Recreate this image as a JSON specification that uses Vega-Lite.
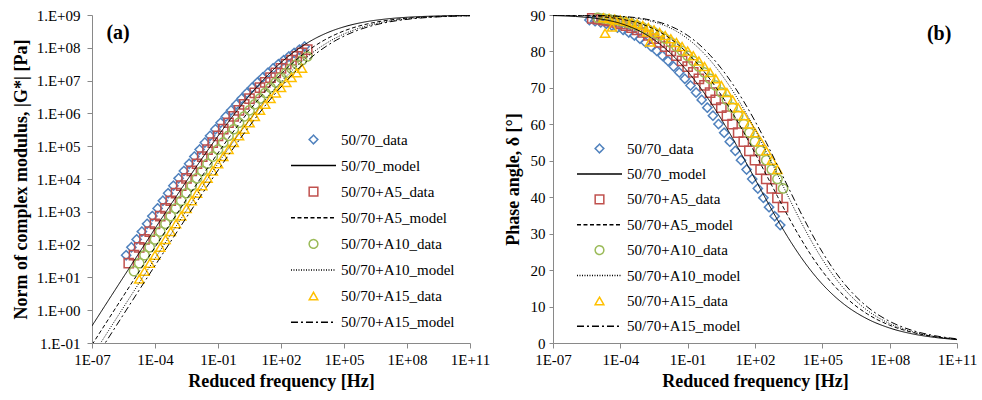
{
  "$schema": "https://vega.github.io/schema/vega-lite/v6.json",
  "autosize": {"type": "pad"},
  "padding": {"left": 12, "top": 8, "right": 5, "bottom": 3},
  "background": "white",
  "bounds": "flush",
  "spacing": 83,
  "config": {
    "view": {"stroke": null},
    "font": "Liberation Serif",
    "axis": {"grid": false, "domainColor": "#898989", "tickColor": "#898989", "labelColor": "#000000", "labelFont": "Liberation Serif", "labelFontSize": 15, "titleFont": "Liberation Serif", "titleFontSize": 18, "titleFontWeight": "bold", "titleColor": "#000000", "labelOverlap": false, "labelFlush": false},
    "legend": {"labelFont": "Liberation Serif", "labelFontSize": 15, "labelColor": "#000000", "symbolSize": 75, "symbolStrokeWidth": 1.5, "padding": 0, "labelOffset": 20, "labelLimit": 300}
  },
  "datasets": {
    "lp": [
      {"s":"50/70_data","f":4.217e-6,"g":47.5},{"s":"50/70_data","f":7.499e-6,"g":82.8},{"s":"50/70_data","f":1.334e-5,"g":144},{"s":"50/70_data","f":2.371e-5,"g":249},{"s":"50/70_data","f":4.217e-5,"g":430},{"s":"50/70_data","f":7.499e-5,"g":740},{"s":"50/70_data","f":1.334e-4,"g":1270},{"s":"50/70_data","f":2.371e-4,"g":2170},{"s":"50/70_data","f":4.217e-4,"g":3690},{"s":"50/70_data","f":7.499e-4,"g":6250},{"s":"50/70_data","f":1.334e-3,"g":10500},{"s":"50/70_data","f":2.371e-3,"g":17600},{"s":"50/70_data","f":4.217e-3,"g":29200},{"s":"50/70_data","f":7.499e-3,"g":48300},{"s":"50/70_data","f":1.334e-2,"g":79200},{"s":"50/70_data","f":2.371e-2,"g":129000},{"s":"50/70_data","f":4.217e-2,"g":207000},{"s":"50/70_data","f":7.499e-2,"g":330000},{"s":"50/70_data","f":0.1334,"g":519000},{"s":"50/70_data","f":0.2371,"g":809000},{"s":"50/70_data","f":0.4217,"g":1240000},{"s":"50/70_data","f":0.7499,"g":1890000},{"s":"50/70_data","f":1.334,"g":2840000},{"s":"50/70_data","f":2.371,"g":4200000},{"s":"50/70_data","f":4.217,"g":6110000},{"s":"50/70_data","f":7.499,"g":8770000},{"s":"50/70_data","f":13.34,"g":12400000},{"s":"50/70_data","f":23.71,"g":17200000},{"s":"50/70_data","f":42.17,"g":23600000},{"s":"50/70_data","f":74.99,"g":31600000},{"s":"50/70_data","f":133.4,"g":41900000},{"s":"50/70_data","f":237.1,"g":54400000},{"s":"50/70_data","f":421.7,"g":69700000},{"s":"50/70_data","f":749.9,"g":87700000},{"s":"50/70_data","f":1334,"g":109000000},
      {"s":"50/70+A5_data","f":5.623e-6,"g":27.2},{"s":"50/70+A5_data","f":1e-5,"g":47.5},{"s":"50/70+A5_data","f":1.778e-5,"g":82.8},{"s":"50/70+A5_data","f":3.162e-5,"g":144},{"s":"50/70+A5_data","f":5.623e-5,"g":249},{"s":"50/70+A5_data","f":1e-4,"g":430},{"s":"50/70+A5_data","f":1.778e-4,"g":740},{"s":"50/70+A5_data","f":3.162e-4,"g":1270},{"s":"50/70+A5_data","f":5.623e-4,"g":2170},{"s":"50/70+A5_data","f":1e-3,"g":3690},{"s":"50/70+A5_data","f":1.778e-3,"g":6250},{"s":"50/70+A5_data","f":3.162e-3,"g":10500},{"s":"50/70+A5_data","f":5.623e-3,"g":17600},{"s":"50/70+A5_data","f":0.01,"g":29200},{"s":"50/70+A5_data","f":1.778e-2,"g":48300},{"s":"50/70+A5_data","f":3.162e-2,"g":79200},{"s":"50/70+A5_data","f":5.623e-2,"g":129000},{"s":"50/70+A5_data","f":0.1,"g":207000},{"s":"50/70+A5_data","f":0.1778,"g":330000},{"s":"50/70+A5_data","f":0.3162,"g":519000},{"s":"50/70+A5_data","f":0.5623,"g":809000},{"s":"50/70+A5_data","f":1,"g":1240000},{"s":"50/70+A5_data","f":1.778,"g":1890000},{"s":"50/70+A5_data","f":3.162,"g":2840000},{"s":"50/70+A5_data","f":5.623,"g":4200000},{"s":"50/70+A5_data","f":10,"g":6110000},{"s":"50/70+A5_data","f":17.78,"g":8770000},{"s":"50/70+A5_data","f":31.62,"g":12400000},{"s":"50/70+A5_data","f":56.23,"g":17200000},{"s":"50/70+A5_data","f":100,"g":23600000},{"s":"50/70+A5_data","f":177.8,"g":31600000},{"s":"50/70+A5_data","f":316.2,"g":41900000},{"s":"50/70+A5_data","f":562.3,"g":54400000},{"s":"50/70+A5_data","f":1000,"g":69700000},{"s":"50/70+A5_data","f":1778,"g":87700000},
      {"s":"50/70+A10_data","f":1e-5,"g":15.5},{"s":"50/70+A10_data","f":1.778e-5,"g":27.2},{"s":"50/70+A10_data","f":3.162e-5,"g":47.5},{"s":"50/70+A10_data","f":5.623e-5,"g":82.8},{"s":"50/70+A10_data","f":1e-4,"g":144},{"s":"50/70+A10_data","f":1.778e-4,"g":249},{"s":"50/70+A10_data","f":3.162e-4,"g":430},{"s":"50/70+A10_data","f":5.623e-4,"g":740},{"s":"50/70+A10_data","f":1e-3,"g":1270},{"s":"50/70+A10_data","f":1.778e-3,"g":2170},{"s":"50/70+A10_data","f":3.162e-3,"g":3690},{"s":"50/70+A10_data","f":5.623e-3,"g":6250},{"s":"50/70+A10_data","f":0.01,"g":10500},{"s":"50/70+A10_data","f":1.778e-2,"g":17600},{"s":"50/70+A10_data","f":3.162e-2,"g":29200},{"s":"50/70+A10_data","f":5.623e-2,"g":48300},{"s":"50/70+A10_data","f":0.1,"g":79200},{"s":"50/70+A10_data","f":0.1778,"g":129000},{"s":"50/70+A10_data","f":0.3162,"g":207000},{"s":"50/70+A10_data","f":0.5623,"g":330000},{"s":"50/70+A10_data","f":1,"g":519000},{"s":"50/70+A10_data","f":1.778,"g":809000},{"s":"50/70+A10_data","f":3.162,"g":1240000},{"s":"50/70+A10_data","f":5.623,"g":1890000},{"s":"50/70+A10_data","f":10,"g":2840000},{"s":"50/70+A10_data","f":17.78,"g":4200000},{"s":"50/70+A10_data","f":31.62,"g":6110000},{"s":"50/70+A10_data","f":56.23,"g":8770000},{"s":"50/70+A10_data","f":100,"g":12400000},{"s":"50/70+A10_data","f":177.8,"g":17200000},{"s":"50/70+A10_data","f":316.2,"g":23600000},{"s":"50/70+A10_data","f":562.3,"g":31600000},{"s":"50/70+A10_data","f":1000,"g":41900000},{"s":"50/70+A10_data","f":1778,"g":54400000},
      {"s":"50/70+A15_data","f":1.778e-5,"g":8.87},{"s":"50/70+A15_data","f":3.162e-5,"g":15.5},{"s":"50/70+A15_data","f":5.623e-5,"g":27.2},{"s":"50/70+A15_data","f":1e-4,"g":47.5},{"s":"50/70+A15_data","f":1.778e-4,"g":82.8},{"s":"50/70+A15_data","f":3.162e-4,"g":144},{"s":"50/70+A15_data","f":5.623e-4,"g":249},{"s":"50/70+A15_data","f":1e-3,"g":430},{"s":"50/70+A15_data","f":1.778e-3,"g":740},{"s":"50/70+A15_data","f":3.162e-3,"g":1270},{"s":"50/70+A15_data","f":5.623e-3,"g":2170},{"s":"50/70+A15_data","f":0.01,"g":3690},{"s":"50/70+A15_data","f":1.778e-2,"g":6250},{"s":"50/70+A15_data","f":3.162e-2,"g":10500},{"s":"50/70+A15_data","f":5.623e-2,"g":17600},{"s":"50/70+A15_data","f":0.1,"g":29200},{"s":"50/70+A15_data","f":0.1778,"g":48300},{"s":"50/70+A15_data","f":0.3162,"g":79200},{"s":"50/70+A15_data","f":0.5623,"g":129000},{"s":"50/70+A15_data","f":1,"g":207000},{"s":"50/70+A15_data","f":1.778,"g":330000},{"s":"50/70+A15_data","f":3.162,"g":519000},{"s":"50/70+A15_data","f":5.623,"g":809000},{"s":"50/70+A15_data","f":10,"g":1240000},{"s":"50/70+A15_data","f":17.78,"g":1890000},{"s":"50/70+A15_data","f":31.62,"g":2840000},{"s":"50/70+A15_data","f":56.23,"g":4200000},{"s":"50/70+A15_data","f":100,"g":6110000},{"s":"50/70+A15_data","f":177.8,"g":8770000},{"s":"50/70+A15_data","f":316.2,"g":12400000},{"s":"50/70+A15_data","f":562.3,"g":17200000},{"s":"50/70+A15_data","f":1000,"g":23600000}
    ],
    "ll": [
      {"s":"50/70_model","f":1e-7,"g":0.333},{"s":"50/70_model","f":1e-5,"g":32.1},{"s":"50/70_model","f":1e-3,"g":2870},{"s":"50/70_model","f":1e-2,"g":25400},{"s":"50/70_model","f":0.1,"g":205000},{"s":"50/70_model","f":0.3162,"g":553000},{"s":"50/70_model","f":1,"g":1440000},{"s":"50/70_model","f":3.162,"g":3540000},{"s":"50/70_model","f":10,"g":8200000},{"s":"50/70_model","f":31.62,"g":17700000},{"s":"50/70_model","f":100,"g":35500000},{"s":"50/70_model","f":316.2,"g":65500000},{"s":"50/70_model","f":1000,"g":110900000},{"s":"50/70_model","f":3162,"g":173800000},{"s":"50/70_model","f":1e4,"g":252300000},{"s":"50/70_model","f":3.162e4,"g":342000000},{"s":"50/70_model","f":1e5,"g":435500000},{"s":"50/70_model","f":1e6,"g":615200000},{"s":"50/70_model","f":1e7,"g":755100000},{"s":"50/70_model","f":1e8,"g":853100000},{"s":"50/70_model","f":1e9,"g":914100000},{"s":"50/70_model","f":1e10,"g":950600000},{"s":"50/70_model","f":1e11,"g":972700000},
      {"s":"50/70+A5_model","f":1e-7,"g":0.0881},{"s":"50/70+A5_model","f":3.802e-5,"g":32.1},{"s":"50/70+A5_model","f":3.802e-3,"g":2870},{"s":"50/70+A5_model","f":3.802e-2,"g":25400},{"s":"50/70+A5_model","f":0.3802,"g":205000},{"s":"50/70+A5_model","f":1.202,"g":553000},{"s":"50/70+A5_model","f":3.802,"g":1440000},{"s":"50/70+A5_model","f":12.02,"g":3540000},{"s":"50/70+A5_model","f":38.02,"g":8200000},{"s":"50/70+A5_model","f":120.2,"g":17700000},{"s":"50/70+A5_model","f":380.2,"g":35500000},{"s":"50/70+A5_model","f":1202,"g":65500000},{"s":"50/70+A5_model","f":3802,"g":110900000},{"s":"50/70+A5_model","f":1.202e4,"g":173800000},{"s":"50/70+A5_model","f":3.802e4,"g":252300000},{"s":"50/70+A5_model","f":1.202e5,"g":342000000},{"s":"50/70+A5_model","f":3.802e5,"g":435500000},{"s":"50/70+A5_model","f":3.802e6,"g":615200000},{"s":"50/70+A5_model","f":3.802e7,"g":755100000},{"s":"50/70+A5_model","f":3.802e8,"g":853100000},{"s":"50/70+A5_model","f":3.802e9,"g":914100000},{"s":"50/70+A5_model","f":3.802e10,"g":950600000},{"s":"50/70+A5_model","f":1e11,"g":962000000},
      {"s":"50/70+A10_model","f":1e-7,"g":0.0388},{"s":"50/70+A10_model","f":8.511e-5,"g":32.1},{"s":"50/70+A10_model","f":8.511e-3,"g":2870},{"s":"50/70+A10_model","f":8.511e-2,"g":25400},{"s":"50/70+A10_model","f":0.8511,"g":205000},{"s":"50/70+A10_model","f":2.691,"g":553000},{"s":"50/70+A10_model","f":8.511,"g":1440000},{"s":"50/70+A10_model","f":26.91,"g":3540000},{"s":"50/70+A10_model","f":85.11,"g":8200000},{"s":"50/70+A10_model","f":269.1,"g":17700000},{"s":"50/70+A10_model","f":851.1,"g":35500000},{"s":"50/70+A10_model","f":2691,"g":65500000},{"s":"50/70+A10_model","f":8511,"g":110900000},{"s":"50/70+A10_model","f":2.691e4,"g":173800000},{"s":"50/70+A10_model","f":8.511e4,"g":252300000},{"s":"50/70+A10_model","f":2.691e5,"g":342000000},{"s":"50/70+A10_model","f":8.511e5,"g":435500000},{"s":"50/70+A10_model","f":8.511e6,"g":615200000},{"s":"50/70+A10_model","f":8.511e7,"g":755100000},{"s":"50/70+A10_model","f":8.511e8,"g":853100000},{"s":"50/70+A10_model","f":8.511e9,"g":914100000},{"s":"50/70+A10_model","f":8.511e10,"g":950600000},{"s":"50/70+A10_model","f":1e11,"g":953000000},
      {"s":"50/70+A15_model","f":1e-7,"g":0.0235},{"s":"50/70+A15_model","f":1.413e-4,"g":32.1},{"s":"50/70+A15_model","f":1.413e-2,"g":2870},{"s":"50/70+A15_model","f":0.1413,"g":25400},{"s":"50/70+A15_model","f":1.413,"g":205000},{"s":"50/70+A15_model","f":4.468,"g":553000},{"s":"50/70+A15_model","f":14.13,"g":1440000},{"s":"50/70+A15_model","f":44.68,"g":3540000},{"s":"50/70+A15_model","f":141.3,"g":8200000},{"s":"50/70+A15_model","f":446.8,"g":17700000},{"s":"50/70+A15_model","f":1413,"g":35500000},{"s":"50/70+A15_model","f":4468,"g":65500000},{"s":"50/70+A15_model","f":1.413e4,"g":110900000},{"s":"50/70+A15_model","f":4.468e4,"g":173800000},{"s":"50/70+A15_model","f":1.413e5,"g":252300000},{"s":"50/70+A15_model","f":4.468e5,"g":342000000},{"s":"50/70+A15_model","f":1.413e6,"g":435500000},{"s":"50/70+A15_model","f":1.413e7,"g":615200000},{"s":"50/70+A15_model","f":1.413e8,"g":755100000},{"s":"50/70+A15_model","f":1.413e9,"g":853100000},{"s":"50/70+A15_model","f":1.413e10,"g":914100000},{"s":"50/70+A15_model","f":1e11,"g":946000000}
    ],
    "rp": [
      {"s":"50/70_data","f":4.217e-6,"d":88.61},{"s":"50/70_data","f":7.499e-6,"d":88.31},{"s":"50/70_data","f":1.334e-5,"d":87.97},{"s":"50/70_data","f":2.371e-5,"d":87.57},{"s":"50/70_data","f":4.217e-5,"d":87.09},{"s":"50/70_data","f":7.499e-5,"d":86.55},{"s":"50/70_data","f":1.334e-4,"d":85.91},{"s":"50/70_data","f":2.371e-4,"d":85.2},{"s":"50/70_data","f":4.217e-4,"d":84.38},{"s":"50/70_data","f":7.499e-4,"d":83.48},{"s":"50/70_data","f":1.334e-3,"d":82.46},{"s":"50/70_data","f":2.371e-3,"d":81.35},{"s":"50/70_data","f":4.217e-3,"d":80.14},{"s":"50/70_data","f":7.499e-3,"d":78.82},{"s":"50/70_data","f":1.334e-2,"d":77.39},{"s":"50/70_data","f":2.371e-2,"d":75.86},{"s":"50/70_data","f":4.217e-2,"d":74.23},{"s":"50/70_data","f":7.499e-2,"d":72.49},{"s":"50/70_data","f":0.1334,"d":70.66},{"s":"50/70_data","f":0.2371,"d":68.73},{"s":"50/70_data","f":0.4217,"d":66.71},{"s":"50/70_data","f":0.7499,"d":64.58},{"s":"50/70_data","f":1.334,"d":62.38},{"s":"50/70_data","f":2.371,"d":60.07},{"s":"50/70_data","f":4.217,"d":57.7},{"s":"50/70_data","f":7.499,"d":55.24},{"s":"50/70_data","f":13.34,"d":52.73},{"s":"50/70_data","f":23.71,"d":50.17},{"s":"50/70_data","f":42.17,"d":47.6},{"s":"50/70_data","f":74.99,"d":45.0},{"s":"50/70_data","f":133.4,"d":42.4},{"s":"50/70_data","f":237.1,"d":39.83},{"s":"50/70_data","f":421.7,"d":37.27},{"s":"50/70_data","f":749.9,"d":34.79},{"s":"50/70_data","f":1334,"d":32.35},
      {"s":"50/70+A5_data","f":5.623e-6,"d":89.06},{"s":"50/70+A5_data","f":1e-5,"d":88.85},{"s":"50/70+A5_data","f":1.778e-5,"d":88.61},{"s":"50/70+A5_data","f":3.162e-5,"d":88.31},{"s":"50/70+A5_data","f":5.623e-5,"d":87.97},{"s":"50/70+A5_data","f":1e-4,"d":87.57},{"s":"50/70+A5_data","f":1.778e-4,"d":87.09},{"s":"50/70+A5_data","f":3.162e-4,"d":86.55},{"s":"50/70+A5_data","f":5.623e-4,"d":85.91},{"s":"50/70+A5_data","f":1e-3,"d":85.2},{"s":"50/70+A5_data","f":1.778e-3,"d":84.38},{"s":"50/70+A5_data","f":3.162e-3,"d":83.48},{"s":"50/70+A5_data","f":5.623e-3,"d":82.46},{"s":"50/70+A5_data","f":0.01,"d":81.35},{"s":"50/70+A5_data","f":1.778e-2,"d":80.14},{"s":"50/70+A5_data","f":3.162e-2,"d":78.82},{"s":"50/70+A5_data","f":5.623e-2,"d":77.39},{"s":"50/70+A5_data","f":0.1,"d":75.86},{"s":"50/70+A5_data","f":0.1778,"d":74.23},{"s":"50/70+A5_data","f":0.3162,"d":72.49},{"s":"50/70+A5_data","f":0.5623,"d":70.66},{"s":"50/70+A5_data","f":1,"d":68.73},{"s":"50/70+A5_data","f":1.778,"d":66.71},{"s":"50/70+A5_data","f":3.162,"d":64.58},{"s":"50/70+A5_data","f":5.623,"d":62.38},{"s":"50/70+A5_data","f":10,"d":60.07},{"s":"50/70+A5_data","f":17.78,"d":57.7},{"s":"50/70+A5_data","f":31.62,"d":55.24},{"s":"50/70+A5_data","f":56.23,"d":52.73},{"s":"50/70+A5_data","f":100,"d":50.17},{"s":"50/70+A5_data","f":177.8,"d":47.6},{"s":"50/70+A5_data","f":316.2,"d":45.0},{"s":"50/70+A5_data","f":562.3,"d":42.4},{"s":"50/70+A5_data","f":1000,"d":39.83},{"s":"50/70+A5_data","f":1778,"d":37.27},
      {"s":"50/70+A10_data","f":1e-5,"d":89.23},{"s":"50/70+A10_data","f":1.778e-5,"d":89.06},{"s":"50/70+A10_data","f":3.162e-5,"d":88.85},{"s":"50/70+A10_data","f":5.623e-5,"d":88.61},{"s":"50/70+A10_data","f":1e-4,"d":88.31},{"s":"50/70+A10_data","f":1.778e-4,"d":87.97},{"s":"50/70+A10_data","f":3.162e-4,"d":87.57},{"s":"50/70+A10_data","f":5.623e-4,"d":87.09},{"s":"50/70+A10_data","f":1e-3,"d":86.55},{"s":"50/70+A10_data","f":1.778e-3,"d":85.91},{"s":"50/70+A10_data","f":3.162e-3,"d":85.2},{"s":"50/70+A10_data","f":5.623e-3,"d":84.38},{"s":"50/70+A10_data","f":0.01,"d":83.48},{"s":"50/70+A10_data","f":1.778e-2,"d":82.46},{"s":"50/70+A10_data","f":3.162e-2,"d":81.35},{"s":"50/70+A10_data","f":5.623e-2,"d":80.14},{"s":"50/70+A10_data","f":0.1,"d":78.82},{"s":"50/70+A10_data","f":0.1778,"d":77.39},{"s":"50/70+A10_data","f":0.3162,"d":75.86},{"s":"50/70+A10_data","f":0.5623,"d":74.23},{"s":"50/70+A10_data","f":1,"d":72.49},{"s":"50/70+A10_data","f":1.778,"d":70.66},{"s":"50/70+A10_data","f":3.162,"d":68.73},{"s":"50/70+A10_data","f":5.623,"d":66.71},{"s":"50/70+A10_data","f":10,"d":64.58},{"s":"50/70+A10_data","f":17.78,"d":62.38},{"s":"50/70+A10_data","f":31.62,"d":60.07},{"s":"50/70+A10_data","f":56.23,"d":57.7},{"s":"50/70+A10_data","f":100,"d":55.24},{"s":"50/70+A10_data","f":177.8,"d":52.73},{"s":"50/70+A10_data","f":316.2,"d":50.17},{"s":"50/70+A10_data","f":562.3,"d":47.6},{"s":"50/70+A10_data","f":1000,"d":45.0},{"s":"50/70+A10_data","f":1778,"d":42.4},
      {"s":"50/70+A15_data","f":1.778e-5,"d":89.23},{"s":"50/70+A15_data","f":3.162e-5,"d":89.06},{"s":"50/70+A15_data","f":5.623e-5,"d":88.85},{"s":"50/70+A15_data","f":1e-4,"d":88.61},{"s":"50/70+A15_data","f":1.778e-4,"d":88.31},{"s":"50/70+A15_data","f":3.162e-4,"d":87.97},{"s":"50/70+A15_data","f":5.623e-4,"d":87.57},{"s":"50/70+A15_data","f":1e-3,"d":87.09},{"s":"50/70+A15_data","f":1.778e-3,"d":86.55},{"s":"50/70+A15_data","f":3.162e-3,"d":85.91},{"s":"50/70+A15_data","f":5.623e-3,"d":85.2},{"s":"50/70+A15_data","f":0.01,"d":84.38},{"s":"50/70+A15_data","f":1.778e-2,"d":83.48},{"s":"50/70+A15_data","f":3.162e-2,"d":82.46},{"s":"50/70+A15_data","f":5.623e-2,"d":81.35},{"s":"50/70+A15_data","f":0.1,"d":80.14},{"s":"50/70+A15_data","f":0.1778,"d":78.82},{"s":"50/70+A15_data","f":0.3162,"d":77.39},{"s":"50/70+A15_data","f":0.5623,"d":75.86},{"s":"50/70+A15_data","f":1,"d":74.23},{"s":"50/70+A15_data","f":1.778,"d":72.49},{"s":"50/70+A15_data","f":3.162,"d":70.66},{"s":"50/70+A15_data","f":5.623,"d":68.73},{"s":"50/70+A15_data","f":10,"d":66.71},{"s":"50/70+A15_data","f":17.78,"d":64.58},{"s":"50/70+A15_data","f":31.62,"d":62.38},{"s":"50/70+A15_data","f":56.23,"d":60.07},{"s":"50/70+A15_data","f":100,"d":57.7},{"s":"50/70+A15_data","f":177.8,"d":55.24},{"s":"50/70+A15_data","f":316.2,"d":52.73},{"s":"50/70+A15_data","f":562.3,"d":50.17},{"s":"50/70+A15_data","f":1000,"d":47.6},
      {"s":"50/70+A15_data","f":2.09e-5,"d":85.0},{"s":"50/70+A15_data","f":4.27e-5,"d":86.7},{"s":"50/70+A15_data","f":1.55e-3,"d":85.3},{"s":"50/70+A15_data","f":2.09e-3,"d":82.6}
    ],
    "rl": [
      {"s":"50/70_model","f":1e-7,"d":89.84},{"s":"50/70_model","f":1e-6,"d":89.59},{"s":"50/70_model","f":1e-5,"d":89.0},{"s":"50/70_model","f":1e-4,"d":87.7},{"s":"50/70_model","f":1e-3,"d":85.14},{"s":"50/70_model","f":3.162e-3,"d":83.22},{"s":"50/70_model","f":1e-2,"d":80.81},{"s":"50/70_model","f":3.162e-2,"d":77.9},{"s":"50/70_model","f":0.1,"d":74.49},{"s":"50/70_model","f":0.3162,"d":70.59},{"s":"50/70_model","f":1,"d":66.23},{"s":"50/70_model","f":3.162,"d":61.41},{"s":"50/70_model","f":10,"d":56.2},{"s":"50/70_model","f":31.62,"d":50.67},{"s":"50/70_model","f":100,"d":45.0},{"s":"50/70_model","f":316.2,"d":39.33},{"s":"50/70_model","f":1000,"d":33.84},{"s":"50/70_model","f":3162,"d":28.68},{"s":"50/70_model","f":1e4,"d":23.97},{"s":"50/70_model","f":3.162e4,"d":19.79},{"s":"50/70_model","f":1e5,"d":16.15},{"s":"50/70_model","f":3.162e5,"d":13.07},{"s":"50/70_model","f":1e6,"d":10.48},{"s":"50/70_model","f":1e7,"d":6.62},{"s":"50/70_model","f":1e8,"d":4.11},{"s":"50/70_model","f":1e9,"d":2.52},{"s":"50/70_model","f":1e10,"d":1.54},{"s":"50/70_model","f":1e11,"d":0.93},
      {"s":"50/70+A5_model","f":1e-7,"d":89.94},{"s":"50/70+A5_model","f":1e-6,"d":89.84},{"s":"50/70+A5_model","f":1e-5,"d":89.57},{"s":"50/70+A5_model","f":1e-4,"d":88.91},{"s":"50/70+A5_model","f":1e-3,"d":87.42},{"s":"50/70+A5_model","f":3.162e-3,"d":86.16},{"s":"50/70+A5_model","f":1e-2,"d":84.46},{"s":"50/70+A5_model","f":3.162e-2,"d":82.25},{"s":"50/70+A5_model","f":0.1,"d":79.5},{"s":"50/70+A5_model","f":0.3162,"d":76.19},{"s":"50/70+A5_model","f":1,"d":72.35},{"s":"50/70+A5_model","f":3.162,"d":67.99},{"s":"50/70+A5_model","f":10,"d":63.12},{"s":"50/70+A5_model","f":31.62,"d":57.8},{"s":"50/70+A5_model","f":100,"d":52.09},{"s":"50/70+A5_model","f":316.2,"d":46.19},{"s":"50/70+A5_model","f":1000,"d":40.25},{"s":"50/70+A5_model","f":3162,"d":34.48},{"s":"50/70+A5_model","f":1e4,"d":29.04},{"s":"50/70+A5_model","f":3.162e4,"d":24.09},{"s":"50/70+A5_model","f":1e5,"d":19.72},{"s":"50/70+A5_model","f":3.162e5,"d":15.94},{"s":"50/70+A5_model","f":1e6,"d":12.76},{"s":"50/70+A5_model","f":1e7,"d":7.98},{"s":"50/70+A5_model","f":1e8,"d":4.88},{"s":"50/70+A5_model","f":1e9,"d":2.94},{"s":"50/70+A5_model","f":1e10,"d":1.75},{"s":"50/70+A5_model","f":1e11,"d":1.04},
      {"s":"50/70+A10_model","f":1e-7,"d":89.98},{"s":"50/70+A10_model","f":1e-6,"d":89.95},{"s":"50/70+A10_model","f":1e-5,"d":89.85},{"s":"50/70+A10_model","f":1e-4,"d":89.56},{"s":"50/70+A10_model","f":1e-3,"d":88.81},{"s":"50/70+A10_model","f":3.162e-3,"d":88.09},{"s":"50/70+A10_model","f":1e-2,"d":87.05},{"s":"50/70+A10_model","f":3.162e-2,"d":85.54},{"s":"50/70+A10_model","f":0.1,"d":83.49},{"s":"50/70+A10_model","f":0.3162,"d":80.85},{"s":"50/70+A10_model","f":1,"d":77.6},{"s":"50/70+A10_model","f":3.162,"d":73.71},{"s":"50/70+A10_model","f":10,"d":69.24},{"s":"50/70+A10_model","f":31.62,"d":64.17},{"s":"50/70+A10_model","f":100,"d":58.59},{"s":"50/70+A10_model","f":316.2,"d":52.54},{"s":"50/70+A10_model","f":1000,"d":46.27},{"s":"50/70+A10_model","f":3162,"d":39.94},{"s":"50/70+A10_model","f":1e4,"d":33.81},{"s":"50/70+A10_model","f":3.162e4,"d":28.1},{"s":"50/70+A10_model","f":1e5,"d":22.95},{"s":"50/70+A10_model","f":3.162e5,"d":18.47},{"s":"50/70+A10_model","f":1e6,"d":14.67},{"s":"50/70+A10_model","f":1e7,"d":8.97},{"s":"50/70+A10_model","f":1e8,"d":5.33},{"s":"50/70+A10_model","f":1e9,"d":3.11},{"s":"50/70+A10_model","f":1e10,"d":1.8},{"s":"50/70+A10_model","f":1e11,"d":1.03},
      {"s":"50/70+A15_model","f":1e-7,"d":89.98},{"s":"50/70+A15_model","f":1e-6,"d":89.96},{"s":"50/70+A15_model","f":1e-5,"d":89.87},{"s":"50/70+A15_model","f":1e-4,"d":89.64},{"s":"50/70+A15_model","f":1e-3,"d":89.02},{"s":"50/70+A15_model","f":3.162e-3,"d":88.41},{"s":"50/70+A15_model","f":1e-2,"d":87.51},{"s":"50/70+A15_model","f":3.162e-2,"d":86.19},{"s":"50/70+A15_model","f":0.1,"d":84.38},{"s":"50/70+A15_model","f":0.3162,"d":81.99},{"s":"50/70+A15_model","f":1,"d":78.96},{"s":"50/70+A15_model","f":3.162,"d":75.33},{"s":"50/70+A15_model","f":10,"d":71.09},{"s":"50/70+A15_model","f":31.62,"d":66.27},{"s":"50/70+A15_model","f":100,"d":60.89},{"s":"50/70+A15_model","f":316.2,"d":55.02},{"s":"50/70+A15_model","f":1000,"d":48.8},{"s":"50/70+A15_model","f":3162,"d":42.47},{"s":"50/70+A15_model","f":1e4,"d":36.23},{"s":"50/70+A15_model","f":3.162e4,"d":30.32},{"s":"50/70+A15_model","f":1e5,"d":24.94},{"s":"50/70+A15_model","f":3.162e5,"d":20.18},{"s":"50/70+A15_model","f":1e6,"d":16.11},{"s":"50/70+A15_model","f":1e7,"d":9.93},{"s":"50/70+A15_model","f":1e8,"d":5.93},{"s":"50/70+A15_model","f":1e9,"d":3.47},{"s":"50/70+A15_model","f":1e10,"d":2.01},{"s":"50/70+A15_model","f":1e11,"d":1.15}
    ]
  },
  "resolve": {
    "scale": {"color": "independent", "shape": "independent", "strokeDash": "independent"},
    "legend": {"color": "independent", "shape": "independent", "strokeDash": "independent"}
  },
  "hconcat": [
    {
      "width": 378,
      "height": 328,
      "encoding": {
        "x": {"field": "f", "type": "quantitative", "scale": {"type": "log", "domain": [1e-7, 1e11], "nice": false},
              "axis": {"title": "Reduced frequency [Hz]", "values": [1e-7, 1e-4, 0.1, 100, 1e5, 1e8, 1e11], "labelExpr": "'1E' + (datum.value < 1 ? '-' : '+') + (abs(round(log(datum.value)/LN10)) < 10 ? '0' : '') + abs(round(log(datum.value)/LN10))", "labelFlush": false, "labelOverlap": false, "tickSize": 5, "labelPadding": 4, "titlePadding": 5}},
        "y": {"field": "g", "type": "quantitative", "scale": {"type": "log", "domain": [0.1, 1e9], "nice": false},
              "axis": {"title": "Norm of complex modulus, |G*| [Pa]", "values": [0.1, 1, 10, 100, 1000, 1e4, 1e5, 1e6, 1e7, 1e8, 1e9], "labelExpr": "'1.E' + (datum.value < 1 ? '-' : '+') + (abs(round(log(datum.value)/LN10)) < 10 ? '0' : '') + abs(round(log(datum.value)/LN10))", "labelOverlap": false, "labelFlush": false, "tickSize": 5, "labelPadding": 7, "titlePadding": 6}}
      },
      "layer": [
        {
          "data": {"name": "lp"},
          "mark": {"type": "point", "filled": false, "size": 85, "strokeWidth": 1.5, "opacity": 1},
          "encoding": {
            "color": {"field": "s", "type": "nominal",
                      "scale": {"domain": ["50/70_data","50/70_model","50/70+A5_data","50/70+A5_model","50/70+A10_data","50/70+A10_model","50/70+A15_data","50/70+A15_model"], "range": ["#4F81BD","#000000","#C0504D","#000000","#9BBB59","#000000","#FFC000","#000000"]},
                      "legend": {"orient": "none", "legendX": 214, "legendY": 117, "title": null, "rowPadding": 10.1}},
            "shape": {"field": "s", "type": "nominal",
                      "scale": {"domain": ["50/70_data","50/70_model","50/70+A5_data","50/70+A5_model","50/70+A10_data","50/70+A10_model","50/70+A15_data","50/70+A15_model"], "range": ["diamond","M-5.2,0H5.2","square","M-5.2,0H5.2","circle","M-5.2,0H5.2","triangle-up","M-5.2,0H5.2"]}},
            "strokeDash": {"field": "s", "type": "nominal",
                      "scale": {"domain": ["50/70_data","50/70_model","50/70+A5_data","50/70+A5_model","50/70+A10_data","50/70+A10_model","50/70+A15_data","50/70+A15_model"], "range": [[1,0],[1,0],[1,0],[4,2.5],[1,0],[1,1.5],[1,0],[7,3,2,3]]}}
          }
        },
        {
          "data": {"name": "ll"},
          "mark": {"type": "line", "clip": true, "strokeWidth": 1, "interpolate": "monotone"},
          "encoding": {
            "color": {"field": "s", "type": "nominal", "legend": null},
            "strokeDash": {"field": "s", "type": "nominal", "legend": null}
          }
        },
        {
          "data": {"values": [{"f": 1.75e-6, "g": 2.8e8, "t": "(a)"}]},
          "mark": {"type": "text", "font": "Liberation Serif", "fontSize": 20, "fontWeight": "bold", "color": "#000000"},
          "encoding": {"text": {"field": "t"}}
        }
      ]
    },
    {
      "width": 404,
      "height": 328,
      "encoding": {
        "x": {"field": "f", "type": "quantitative", "scale": {"type": "log", "domain": [1e-7, 1e11], "nice": false},
              "axis": {"title": "Reduced frequency [Hz]", "values": [1e-7, 1e-4, 0.1, 100, 1e5, 1e8, 1e11], "labelExpr": "'1E' + (datum.value < 1 ? '-' : '+') + (abs(round(log(datum.value)/LN10)) < 10 ? '0' : '') + abs(round(log(datum.value)/LN10))", "labelFlush": false, "labelOverlap": false, "tickSize": 5, "labelPadding": 4, "titlePadding": 5}},
        "y": {"field": "d", "type": "quantitative", "scale": {"domain": [0, 90], "nice": false},
              "axis": {"title": "Phase angle, δ [°]", "values": [0, 10, 20, 30, 40, 50, 60, 70, 80, 90], "tickCount": 10, "labelOverlap": false, "labelFlush": false, "tickSize": 4, "labelPadding": 4, "titlePadding": 8}}
      },
      "layer": [
        {
          "data": {"name": "rp"},
          "mark": {"type": "point", "filled": false, "size": 85, "strokeWidth": 1.5, "opacity": 1},
          "encoding": {
            "color": {"field": "s", "type": "nominal",
                      "scale": {"domain": ["50/70_data","50/70_model","50/70+A5_data","50/70+A5_model","50/70+A10_data","50/70+A10_model","50/70+A15_data","50/70+A15_model"], "range": ["#4F81BD","#000000","#C0504D","#000000","#9BBB59","#000000","#FFC000","#000000"]},
                      "legend": {"orient": "none", "legendX": 39, "legendY": 126, "title": null, "rowPadding": 9.4}},
            "shape": {"field": "s", "type": "nominal",
                      "scale": {"domain": ["50/70_data","50/70_model","50/70+A5_data","50/70+A5_model","50/70+A10_data","50/70+A10_model","50/70+A15_data","50/70+A15_model"], "range": ["diamond","M-5.2,0H5.2","square","M-5.2,0H5.2","circle","M-5.2,0H5.2","triangle-up","M-5.2,0H5.2"]}},
            "strokeDash": {"field": "s", "type": "nominal",
                      "scale": {"domain": ["50/70_data","50/70_model","50/70+A5_data","50/70+A5_model","50/70+A10_data","50/70+A10_model","50/70+A15_data","50/70+A15_model"], "range": [[1,0],[1,0],[1,0],[4,2.5],[1,0],[1,1.5],[1,0],[7,3,2,3]]}}
          }
        },
        {
          "data": {"name": "rl"},
          "mark": {"type": "line", "clip": true, "strokeWidth": 1, "interpolate": "monotone"},
          "encoding": {
            "color": {"field": "s", "type": "nominal", "legend": null},
            "strokeDash": {"field": "s", "type": "nominal", "legend": null}
          }
        },
        {
          "data": {"values": [{"f": 1.6e10, "d": 84.8, "t": "(b)"}]},
          "mark": {"type": "text", "font": "Liberation Serif", "fontSize": 20, "fontWeight": "bold", "color": "#000000"},
          "encoding": {"text": {"field": "t"}}
        }
      ]
    }
  ]
}
